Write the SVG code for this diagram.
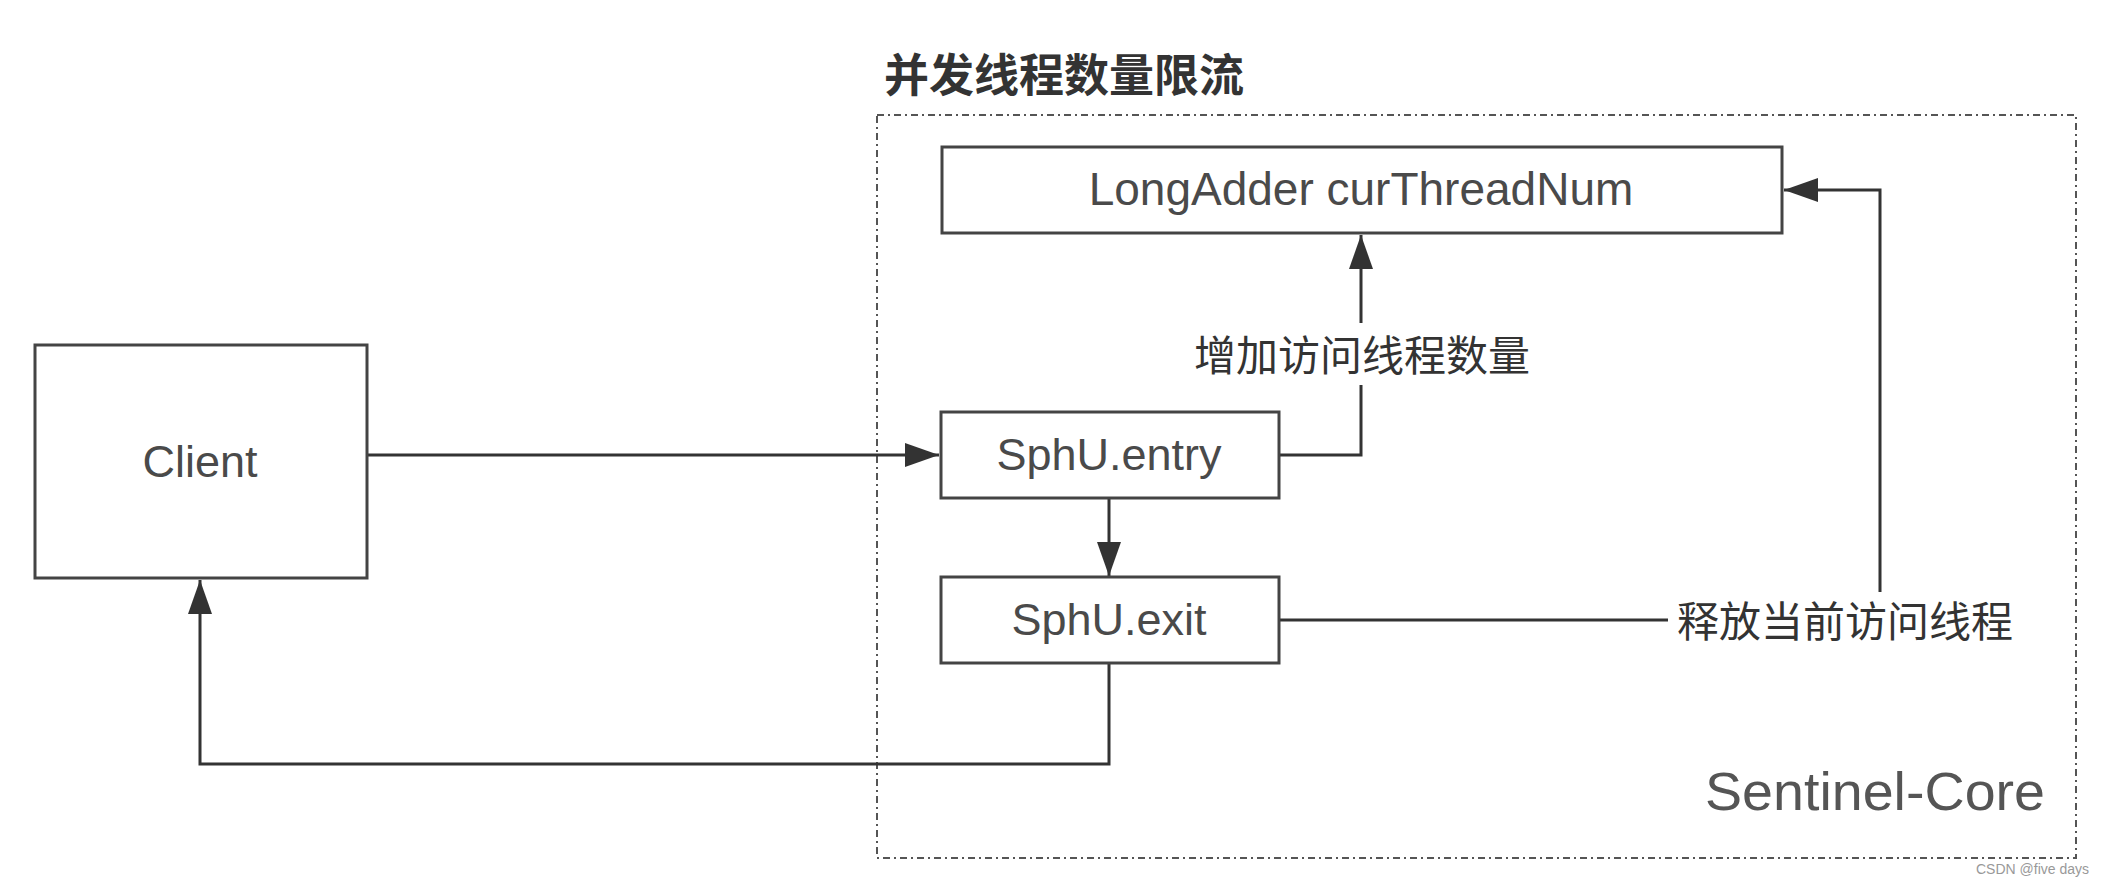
<svg xmlns="http://www.w3.org/2000/svg" width="2104" height="885" viewBox="0 0 2104 885">
  <style>
    .box { fill: #ffffff; stroke: #444444; stroke-width: 3; }
    .lbl { font-family: "Liberation Sans", Arial, sans-serif; fill: #4a4a4a; text-anchor: middle; }
    .cjk { font-family: "Noto Sans CJK SC", "Noto Sans CJK JP", sans-serif; fill: #333333; text-anchor: middle; }
    .conn { fill: none; stroke: #333333; stroke-width: 3; }
  </style>
  <defs>
    <marker id="arr" markerUnits="userSpaceOnUse" markerWidth="34" markerHeight="24" refX="34" refY="12" orient="auto">
      <path d="M0,0 L34,12 L0,24 z" fill="#333333"/>
    </marker>
  </defs>
  <rect width="2104" height="885" fill="#ffffff"/>

  <g id="container">
    <rect x="877" y="115" width="1199" height="743" fill="none" stroke="#555555" stroke-width="2" stroke-dasharray="7 4 2 4"/>
    <text x="1064" y="92" class="cjk" font-size="45" font-weight="bold" fill="#333333">并发线程数量限流</text>
    <text x="2045" y="810" font-family="Liberation Sans, Arial, sans-serif" font-size="54" fill="#555555" text-anchor="end" textLength="340" lengthAdjust="spacingAndGlyphs">Sentinel-Core</text>
  </g>

  <g id="connectors">
    <path class="conn" d="M367,455 H939" marker-end="url(#arr)"/>
    <path class="conn" d="M1279,455 H1361 V385 M1361,323 V235" marker-end="url(#arr)"/>
    <path class="conn" d="M1109,498 V576" marker-end="url(#arr)"/>
    <path class="conn" d="M1109,663 V764 H200 V580" marker-end="url(#arr)"/>
    <path class="conn" d="M1279,620 H1668 M1880,592 V190 H1784" marker-end="url(#arr)"/>
    <text x="1362" y="371" class="cjk" font-size="42">增加访问线程数量</text>
    <text x="1845" y="637" class="cjk" font-size="42">释放当前访问线程</text>
  </g>

  <g id="node-longadder">
    <rect class="box" x="942" y="147" width="840" height="86"/>
    <text x="1361" y="205" class="lbl" font-size="46">LongAdder curThreadNum</text>
  </g>

  <g id="node-client">
    <rect class="box" x="35" y="345" width="332" height="233"/>
    <text x="200" y="477" class="lbl" font-size="45">Client</text>
  </g>

  <g id="node-entry">
    <rect class="box" x="941" y="412" width="338" height="86"/>
    <text x="1109" y="470" class="lbl" font-size="45">SphU.entry</text>
  </g>

  <g id="node-exit">
    <rect class="box" x="941" y="577" width="338" height="86"/>
    <text x="1109" y="635" class="lbl" font-size="45">SphU.exit</text>
  </g>

  <text x="2089" y="874" font-family="Liberation Sans, Arial, sans-serif" font-size="14" fill="#999999" text-anchor="end">CSDN @five days</text>
</svg>
